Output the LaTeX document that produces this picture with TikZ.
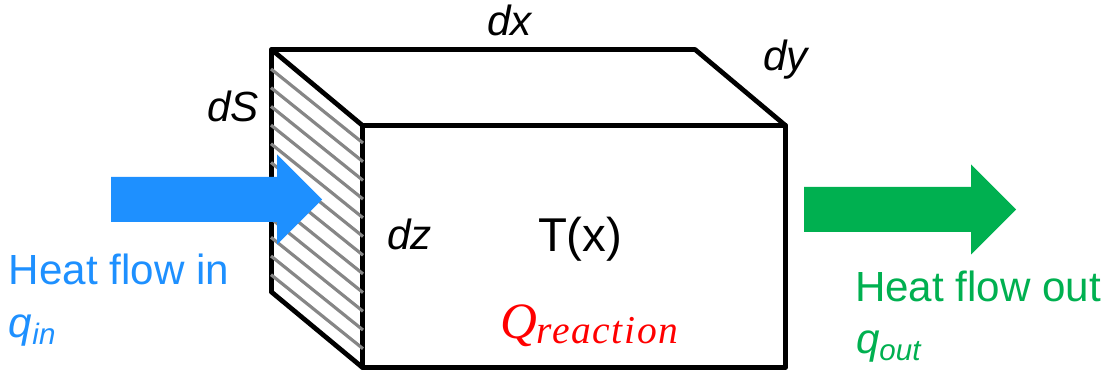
\documentclass[tikz,border=0pt]{standalone}
\usepackage{amsmath}
\usepackage{fontspec}
\setmainfont{Liberation Sans}
\newfontfamily\qfont[ItalicFont={Liberation Serif Italic},LetterSpace=4]{Liberation Serif}
\usetikzlibrary{positioning}
\definecolor{bluein}{RGB}{30,144,255}
\definecolor{greenout}{RGB}{0,176,80}
\definecolor{grayh}{RGB}{134,134,134}
\definecolor{redq}{RGB}{255,0,0}

\begin{document}
\begin{tikzpicture}[x=0.02cm, y=-0.02cm, font=\fontsize{24}{28}\selectfont,
  edge/.style={black, line width=2.7pt, line join=round, line cap=round},
  lab/.style={anchor=base west, inner sep=0pt, outer sep=0pt}]

\newcommand{\flowarrow}[5]{%
  \fill[#1] (#2,#5-22.5) -- (#3,#5-22.5) -- (#3,#5-45) -- (#4,#5)
    -- (#3,#5+45) -- (#3,#5+22.5) -- (#2,#5+22.5) -- cycle;
}

\useasboundingbox (0,0) rectangle (1103,371);

% box corners, 1 unit = 1 px of the sheet
\coordinate (backtl) at (271.5,49.5);
\coordinate (backtr) at (695,49.5);
\coordinate (backbl) at (271.5,292);
\coordinate (fronttl) at (362.5,125.5);
\coordinate (fronttr) at (785.5,125.5);
\coordinate (frontbl) at (362.5,367.5);
\coordinate (frontbr) at (785.5,367.5);

\draw[edge] (backbl) -- (backtl) -- (backtr) -- (fronttr);
\draw[edge] (backtl) -- (fronttl);
\draw[edge] (backbl) -- (frontbl);
\draw[edge] (fronttl) rectangle (frontbr);

% hatch on the left face: 12 lines, 18.7 apart
\foreach \k in {0,...,11}
  \draw[grayh, line width=1.8pt] (271,69+18.7*\k) -- (363,143+18.7*\k);

\flowarrow{bluein}{111}{277}{322}{199.5}
\flowarrow{greenout}{804}{971}{1016}{209.5}

\node[lab] (dx) at (487,36) {\textit{dx}};
\node[lab] (dy) at (763,71) {\textit{dy}};
\node[lab] (dS) at (207,122) {\textit{dS}};
\node[lab] (dz) at (387,250) {\textit{dz}};
\node[lab, font=\fontsize{27}{30}\selectfont] (Tx) at (538,252) {T(x)};
\node[lab, text=redq, font=\fontsize{29}{32}\qfont\itshape] (Qr) at (500,339)
  {Q\raisebox{-2.5pt}{\fontsize{22.5}{26}\selectfont reaction}};

\node[lab, text=bluein] (inlab) at (9,285) {Heat flow in};
\node[lab, text=bluein] (qin) at (9,338) {\textit{q}\textsubscript{\textit{in}}};
\node[lab, text=greenout] (outlab) at (855,302) {Heat flow out};
\node[lab, text=greenout] (qout) at (856,354) {\textit{q}\textsubscript{\textit{out}}};

\end{tikzpicture}
\end{document}
